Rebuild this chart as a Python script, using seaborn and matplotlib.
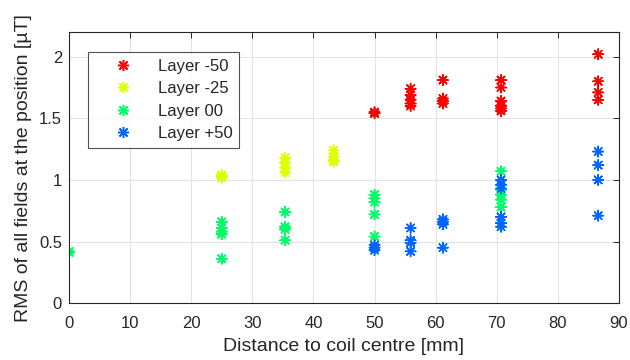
from matplotlib import pyplot as plt
import pandas as pd
import seaborn as sns

# distance of the measuring positions from coil centre [mm]
x_m50 = [50, 50, 55.9, 55.9, 55.9, 55.9, 55.9, 61.2, 61.2, 61.2, 61.2,
         70.7, 70.7, 70.7, 70.7, 70.7, 70.7, 86.6, 86.6, 86.6, 86.6]
y_m50 = [1.54, 1.55, 1.74, 1.69, 1.65, 1.62, 1.60, 1.81, 1.66, 1.64, 1.62,
         1.81, 1.75, 1.64, 1.60, 1.58, 1.56, 2.02, 1.80, 1.71, 1.65]

x_m25 = [25, 25, 25, 35.36, 35.36, 35.36, 35.36, 43.3, 43.3, 43.3, 43.3]
y_m25 = [1.02, 1.04, 1.03, 1.18, 1.14, 1.10, 1.06, 1.24, 1.19, 1.16, 1.15]

x_00 = [0, 0, 25, 25, 25, 25, 25, 35.36, 35.36, 35.36, 35.36,
        50, 50, 50, 50, 50, 70.7, 70.7, 70.7, 70.7, 70.7]
y_00 = [0.41, 0.42, 0.66, 0.61, 0.58, 0.56, 0.36, 0.74, 0.62, 0.60, 0.51,
        0.88, 0.85, 0.82, 0.72, 0.54, 1.07, 0.92, 0.88, 0.84, 0.78]

x_p50 = [50, 50, 50, 55.9, 55.9, 55.9, 55.9, 61.2, 61.2, 61.2, 61.2,
         70.7, 70.7, 70.7, 70.7, 70.7, 70.7, 86.6, 86.6, 86.6, 86.6]
y_p50 = [0.47, 0.45, 0.43, 0.61, 0.51, 0.49, 0.42, 0.68, 0.66, 0.64, 0.45,
         1.00, 0.96, 0.93, 0.70, 0.65, 0.62, 1.23, 1.12, 1.00, 0.71]

layers = ["Layer -50", "Layer -25", "Layer 00", "Layer +50"]
colors = ["#ff0000", "#ddff00", "#00ff66", "#0066ff"]

df = pd.concat([
    pd.DataFrame({"dist": x, "rms": y, "layer": name})
    for x, y, name in zip([x_m50, x_m25, x_00, x_p50],
                          [y_m50, y_m25, y_00, y_p50], layers)
])

sns.set_style("white")
plt.rcParams["font.family"] = ["Liberation Sans", "DejaVu Sans"]

fig = plt.figure(figsize=(6.3, 3.6), dpi=100)
ax = fig.add_axes([0.1095, 0.158, 0.873, 0.753])

sns.scatterplot(data=df, x="dist", y="rms", hue="layer", hue_order=layers,
                palette=dict(zip(layers, colors)), marker=(8, 2, 0), s=55,
                linewidth=1.1, ax=ax, legend=False)

ax.set_xlim(0, 90)
ax.set_ylim(0, 2.2)
ax.set_xticks(range(0, 91, 10))
ax.set_yticks([0, 0.5, 1, 1.5, 2])
ax.set_yticklabels(["0", "0.5", "1", "1.5", "2"])
ax.grid(True, color="#e3e3e3", linewidth=0.8)
ax.tick_params(direction="in", top=True, right=True, length=4, width=0.7,
               labelsize=12, colors="#262626")
ax.tick_params(axis="x", pad=9)
ax.tick_params(axis="y", pad=5)
for sp in ax.spines.values():
    sp.set_color("#262626")
    sp.set_linewidth(0.8)
ax.set_xlabel("Distance to coil centre [mm]", fontsize=14, labelpad=5)
ax.set_ylabel("RMS of all fields at the position [µT]", fontsize=14, labelpad=5)

handles = [plt.Line2D([], [], linestyle="none", marker=(8, 2, 0), markersize=8,
                      markeredgewidth=1.1, color=c) for c in colors]
leg = ax.legend(handles, layers, loc="upper left", bbox_to_anchor=(0.0345, 0.926),
                borderaxespad=0, fontsize=12, frameon=True, fancybox=False,
                edgecolor="#262626", handletextpad=0.4, labelspacing=0.45,
                borderpad=0.4, handlelength=3.4)
leg.get_frame().set_linewidth(0.8)

plt.savefig("out.png", dpi=100)
